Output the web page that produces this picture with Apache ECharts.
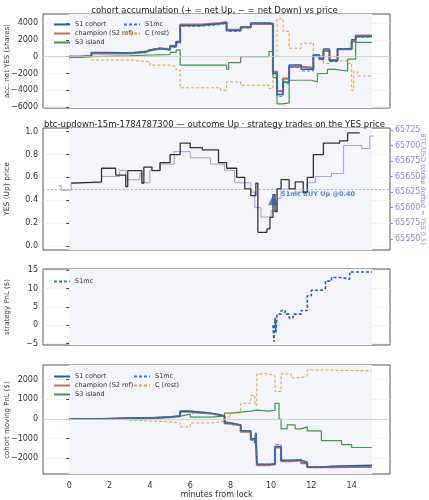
<!DOCTYPE html>
<html><head><meta charset="utf-8">
<script src="https://cdn.jsdelivr.net/npm/echarts@6/dist/echarts.min.js"></script>
<style>html,body{margin:0;padding:0;background:#fff}#c{width:429px;height:500px}</style>
</head><body><div id="c"></div>
<script>
// panel 1: cohort accumulation (minutes, net YES shares)
var accS1 = [[0,0],[0.5,80],[1.1,500],[2,450],[3,600],[3.8,800],[4,1000],[4.5,800],[5,1200],[5.3,1700],[5.5,3700],[6.5,3900],[7.5,4000],[7.8,3100],[8.5,3500],[9,4000],[9.9,3900],[10.1,-2000],[10.3,-4500],[10.6,-3000],[10.9,-1000],[11.5,-1500],[12,-1600],[12.1,200],[12.4,-300],[12.6,900],[12.9,-500],[13.3,900],[13.8,1000],[14,2000],[14.2,2400],[15,2400]];
var accChamp = [[0,0],[0.5,60],[1.1,400],[2,380],[3,550],[3.8,750],[4,950],[4.5,900],[5,1300],[5.3,1800],[5.5,3800],[6.5,4000],[7.5,4100],[7.8,3200],[8.5,3500],[9,3900],[9.9,3900],[10.1,-1800],[10.3,-4100],[10.6,-2600],[10.9,-1200],[11.5,-1300],[12,-1400],[12.1,100],[12.4,-200],[12.6,700],[12.9,-400],[13.3,900],[13.8,900],[14,1800],[14.2,2500],[15,2500]];
var accS1mc = [[0,0],[0.5,70],[1.1,450],[2,420],[3,580],[3.8,780],[4,980],[4.5,850],[5,1100],[5.3,1500],[5.5,3600],[6.5,3800],[7.5,3950],[7.8,3000],[8.5,3400],[9,3950],[9.9,3850],[10.1,-2200],[10.3,-4700],[10.6,-3200],[10.9,-1300],[11.5,-1700],[12,-1700],[12.1,150],[12.4,-400],[12.6,800],[12.9,-600],[13.3,850],[13.8,950],[14,1900],[14.2,2300],[15,2300]];
var accS3 = [[0,0],[1.1,100],[3,200],[4,250],[5,500],[5.3,800],[5.5,-1000],[7.8,-1500],[7.9,-700],[8.5,0],[9.9,600],[10.1,-2500],[10.3,-5600],[10.6,-5500],[10.9,-2800],[12,-3000],[12.3,-2000],[12.8,-1500],[13.2,-1700],[13.8,-300],[14.2,1700],[15,1700]];
var accC = [[0,0],[1.1,-400],[3,-600],[4,-1000],[5,-1200],[5.3,-1600],[5.5,-3700],[7.5,-4000],[7.8,-3000],[8.5,-3400],[9.9,-3800],[10.1,0],[10.3,4500],[10.6,3000],[10.9,1000],[11.5,1600],[12,1700],[12.1,0],[12.4,200],[12.6,-800],[12.9,0],[13.3,-500],[13.8,-800],[14,-4000],[14.1,-1800],[14.3,-2300],[15,-2300]];

// panel 2: YES price and BTC/USD
var yesPrice = [[0.1,0.55],[0.2,0.56],[1.6,0.68],[2.3,0.62],[2.8,0.52],[2.9,0.66],[3.6,0.55],[3.7,0.69],[4.1,0.66],[4.5,0.73],[5,0.8],[5.5,0.9],[6,0.86],[6.6,0.84],[7.4,0.73],[7.8,0.68],[8.3,0.6],[8.7,0.5],[9,0.44],[9.25,0.55],[9.35,0.12],[9.8,0.15],[9.95,0.25],[10.1,0.45],[10.2,0.3],[10.3,0.5],[10.5,0.58],[10.9,0.5],[11.2,0.56],[11.6,0.47],[11.8,0.6],[12.1,0.8],[12.6,0.9],[13.4,0.92],[13.8,0.99],[14.4,0.99]];
var btcUsd = [[-0.5,65635],[-0.4,65628],[0.1,65640],[1.6,65650],[2.5,65660],[2.8,65645],[3.5,65655],[3.6,65640],[4,65660],[4.5,65670],[5.2,65690],[6,65680],[7,65670],[7.7,65660],[8.2,65640],[9,65625],[9.2,65600],[9.5,65585],[10,65595],[10.3,65615],[10.5,65630],[11.2,65625],[11.8,65640],[12.2,65650],[13,65655],[13.6,65700],[14.5,65695],[14.9,65715],[15.1,65715]];
var buyTrade = [[10.1,0.40]];

// panel 3: strategy PnL
var pnlS1mc = [[10.1,0],[10.15,-4.5],[10.2,2],[10.25,-2],[10.3,3],[10.5,4],[10.7,3],[10.9,2],[11.1,3],[11.5,4],[11.8,8],[12,9.5],[12.5,10],[12.7,12],[13,13],[13.5,12.5],[13.9,14.5],[15,14.5]];

// panel 4: cohort moving PnL
var mvS1 = [[0,0],[1.6,50],[3,50],[4,100],[5,150],[5.5,400],[6,300],[7,200],[7.5,150],[7.7,-200],[8,-300],[8.5,-600],[9,-1000],[9.2,-1200],[9.25,-700],[9.3,-2300],[9.9,-2300],[10.2,-1400],[10.5,-2100],[11,-2100],[11.5,-2200],[11.8,-2450],[12.5,-2400],[13,-2350],[15,-2350]];
var mvChamp = [[0,0],[1.6,40],[3,50],[4,100],[5,150],[5.5,380],[6,280],[7,200],[7.5,150],[7.7,-220],[8,-320],[8.5,-650],[9,-1050],[9.2,-1250],[9.25,-750],[9.3,-2350],[9.9,-2300],[10.2,-1450],[10.5,-2150],[11,-2100],[11.5,-2250],[11.8,-2450],[12.5,-2450],[13,-2420],[15,-2420]];
var mvS1mc = [[0,0],[1.6,50],[3,60],[4,110],[5,150],[5.5,420],[6,300],[7,200],[7.5,150],[7.7,-150],[8,-300],[8.5,-600],[9,-1000],[9.2,-1200],[9.25,-700],[9.3,-2300],[9.9,-2300],[10.2,-1300],[10.5,-2100],[11,-2050],[11.5,-2200],[11.8,-2450],[12.5,-2450],[13,-2450],[15,-2450]];
var mvS3 = [[0,0],[1.6,50],[4,100],[5,150],[5.5,250],[6,100],[7,150],[7.7,300],[8,400],[9,450],[9.3,400],[9.9,450],[10.2,800],[10.4,0],[10.5,-500],[10.8,-300],[11.2,-500],[11.5,-400],[11.8,-600],[12.5,-1100],[13.5,-1300],[14,-1450],[15,-1450]];
var mvC = [[0,0],[1.6,-50],[3,-100],[4,-150],[5,-200],[5.5,-400],[6,-200],[7,-150],[7.5,-100],[7.7,100],[8,300],[8.5,800],[9,1200],[9.2,700],[9.3,2300],[9.9,2200],[10.2,1400],[10.5,2300],[11,2100],[11.5,2200],[11.8,2500],[12.5,2450],[15,2450]];

var xTicks = [0,2,4,6,8,10,12,14];
var BLUE = '#2160b0', ORANGE = '#c86a46', GREEN = '#3c9a48', MC = '#3a7bd0', GOLD = '#e0a82a', PURPLE = '#a89ad6';
var FONT = 'DejaVu Sans';

var grids = [
    {left: 43, right: 39, top: 14, height: 94},
    {left: 43, right: 39, top: 128, height: 122},
    {left: 43, right: 39, top: 269, height: 76},
    {left: 43, right: 39, top: 365, height: 109}
];
grids.forEach(function (g) {
    g.show = true; g.borderColor = '#555'; g.borderWidth = 1; g.backgroundColor = '#fff';
    g.containLabel = false; g.outerBoundsMode = 'none';
});

function xAxis(i, last) {
    return {
        type: 'value', gridIndex: i, min: -1.3, max: 15.9,
        axisLine: {show: false},
        axisTick: {show: true, customValues: xTicks, length: 3, lineStyle: {color: '#444'}},
        axisLabel: {show: last, customValues: xTicks, fontSize: 8, fontFamily: FONT, color: '#333'},
        splitLine: {show: true, lineStyle: {color: '#e4e6ec', width: 0.6}},
        name: last ? 'minutes from lock' : '', nameLocation: 'middle', nameGap: 15,
        nameTextStyle: {fontSize: 8, fontFamily: FONT, color: '#333'}
    };
}
function yAxis(i, min, max, ticks, fmt) {
    return {
        type: 'value', gridIndex: i, min: min, max: max,
        axisLine: {show: false},
        axisTick: {show: true, customValues: ticks, length: 3, lineStyle: {color: '#444'}},
        axisLabel: {customValues: ticks, fontSize: 8, fontFamily: FONT, color: '#333', formatter: fmt, margin: 5},
        splitLine: {show: true, lineStyle: {color: '#e4e6ec', width: 0.6}}
    };
}
function fmtNum(v) { return v < 0 ? '\u2212' + (-v) : '' + v; }

// y axis titles as plain rotated text
function axisTitle(text, x, y, rot, color, size) {
    return {
        type: 'text', x: x, y: y, rotation: rot, silent: true,
        style: {text: text, fontSize: size || 7, fontFamily: FONT, fill: color || '#333', align: 'center', verticalAlign: 'middle'}
    };
}

function line(name, data, xi, yi, color, width, dashed, z) {
    return {
        name: name, type: 'line', step: 'end', data: data, xAxisIndex: xi, yAxisIndex: yi,
        symbol: 'none', showSymbol: false, silent: true, z: z || 2,
        legendIcon: 'path://M0,0L1,0L1,1Z',
        lineStyle: {color: color, width: width, type: dashed ? [3, 2] : 'solid'},
        itemStyle: {color: color}
    };
}
var shade = {silent: true, itemStyle: {color: '#f3f5fb'}, data: [[{xAxis: 0}, {xAxis: 15}]]};

var series = [
    line('champion (S2 ref)', accChamp, 0, 0, ORANGE, 2.2, false),
    line('S1 cohort', accS1, 0, 0, BLUE, 1.5, false, 3),
    line('S3 island', accS3, 0, 0, GREEN, 1.2, false),
    line('S1mc', accS1mc, 0, 0, MC, 1, true, 4),
    line('C (rest)', accC, 0, 0, GOLD, 1, true),

    line('btc', btcUsd, 1, 2, PURPLE, 1, false),
    line('yes', yesPrice, 1, 1, '#333', 1.3, false, 3),

    line('S1mc', pnlS1mc, 2, 3, BLUE, 1.6, true),

    line('champion (S2 ref)', mvChamp, 3, 4, ORANGE, 2.2, false),
    line('S1 cohort', mvS1, 3, 4, BLUE, 1.5, false, 3),
    line('S3 island', mvS3, 3, 4, GREEN, 1.2, false),
    line('S1mc', mvS1mc, 3, 4, MC, 1, true, 4),
    line('C (rest)', mvC, 3, 4, GOLD, 1, true)
];
series[0].markArea = shade;
series[0].markLine = {silent: true, symbol: 'none', label: {show: false}, lineStyle: {color: '#ccc', width: 0.8, type: 'solid'}, data: [{yAxis: 0}]};
series[5].markArea = shade;
series[6].markLine = {silent: true, symbol: 'none', label: {show: false}, lineStyle: {color: '#aaa', width: 0.8, type: [2, 2]}, data: [{yAxis: 0.5}]};
series[7].markArea = shade;
series[8].markArea = shade;
series[8].markLine = {silent: true, symbol: 'none', label: {show: false}, lineStyle: {color: '#ccc', width: 0.8, type: 'solid'}, data: [{yAxis: 0}]};
series.push({
    name: 'buy', type: 'scatter', xAxisIndex: 1, yAxisIndex: 1, data: buyTrade, z: 5,
    symbol: 'triangle', symbolSize: 10, itemStyle: {color: '#2a5fb0'},
    label: {show: true, position: 'right', offset: [-2, -6], formatter: 'S1mc BUY Up @0.40',
        fontSize: 6.5, fontWeight: 'bold', fontFamily: FONT, color: '#2a6acc'}
});

function legend(top, left, names) {
    return {
        top: top, left: left, orient: 'vertical', itemWidth: 16, itemHeight: 8, itemGap: 2,
        itemStyle: {color: 'rgba(0,0,0,0)', borderWidth: 0},
        textStyle: {fontSize: 6.5, fontFamily: FONT, color: '#333'},
        data: names, selectedMode: false
    };
}

var chart = echarts.init(document.getElementById('c'), null, {renderer: 'canvas'});
chart.setOption({
    animation: false,
    textStyle: {fontFamily: FONT},
    title: [
        {text: 'cohort accumulation (+ = net Up, \u2212 = net Down) vs price', left: 'center', top: 1,
            textStyle: {fontSize: 8.5, fontWeight: 'normal', fontFamily: FONT, color: '#222'}},
        {text: 'btc-updown-15m-1784787300 \u2014 outcome Up \u00b7 strategy trades on the YES price', left: 'center', top: 115,
            textStyle: {fontSize: 8.5, fontWeight: 'normal', fontFamily: FONT, color: '#222'}}
    ],
    graphic: [
        axisTitle('acc. net YES (shares)', 7, 61, Math.PI / 2),
        axisTitle('YES (Up) price', 7, 189, Math.PI / 2, '#333', 7.5),
        axisTitle('strategy PnL ($)', 7, 307, Math.PI / 2),
        axisTitle('cohort moving PnL ($)', 7, 420, Math.PI / 2),
        axisTitle('BTC/USD (strike dotted = YES 0.5)', 423, 189, -Math.PI / 2, '#9a86c8', 6.5)
    ],
    legend: [
        legend(16, 48, ['S1 cohort', 'champion (S2 ref)', 'S3 island']),
        legend(16, 118, ['S1mc', 'C (rest)']),
        legend(273, 48, [{name: 'S1mc'}]),
        legend(368, 48, ['S1 cohort', 'champion (S2 ref)', 'S3 island']),
        legend(368, 128, ['S1mc', 'C (rest)'])
    ],
    grid: grids,
    xAxis: [xAxis(0, false), xAxis(1, false), xAxis(2, false), xAxis(3, true)],
    yAxis: [
        yAxis(0, -6100, 5070, [-6000, -4000, -2000, 0, 2000, 4000], fmtNum),
        yAxis(1, -0.035, 1.032, [0, 0.2, 0.4, 0.6, 0.8, 1.0], function (v) { return v.toFixed(1); }),
        (function () {
            var a = yAxis(1, 65532, 65728, [65550, 65575, 65600, 65625, 65650, 65675, 65700, 65725],
                function (v) { return '' + v; });
            a.position = 'right';
            a.splitLine = {show: false};
            a.axisLabel.color = '#9a86c8';
            a.axisTick.lineStyle = {color: '#9a86c8'};
            return a;
        })(),
        yAxis(2, -5.4, 15.3, [-5, 0, 5, 10, 15], fmtNum),
        yAxis(3, -2800, 2750, [-2000, -1000, 0, 1000, 2000], fmtNum)
    ],
    series: series
});
</script>
</body></html>
